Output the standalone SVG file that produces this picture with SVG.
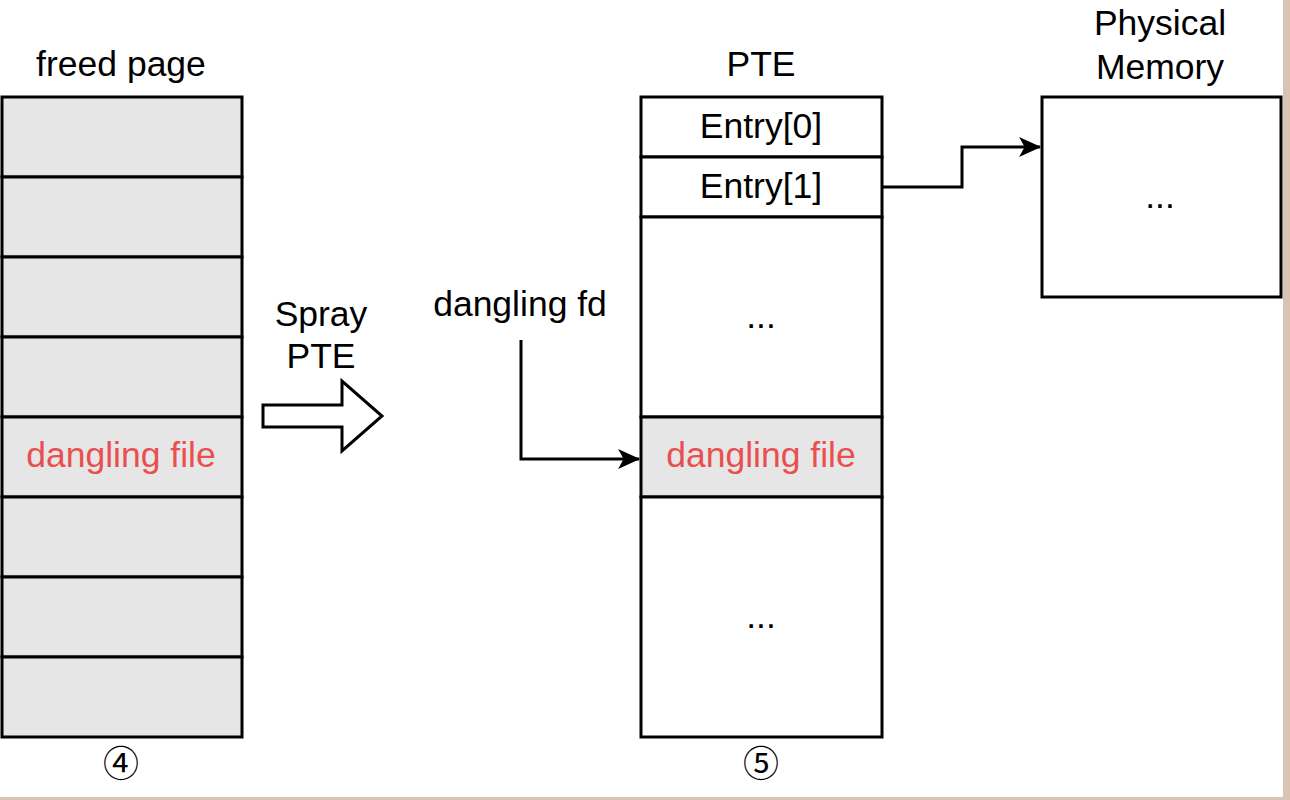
<svg xmlns="http://www.w3.org/2000/svg" width="1290" height="800" viewBox="0 0 1290 800">
<style>
.cell{fill:#e6e6e6;stroke:#000;stroke-width:3}
.wcell{fill:#fff;stroke:#000;stroke-width:3}
.t{font-family:"Liberation Sans",Arial,sans-serif;font-size:35.5px;fill:#000;text-anchor:middle}
.red{fill:#ea4f4f}
.num{font-family:"Noto Sans CJK SC","DejaVu Sans",sans-serif;font-size:36px;fill:#000;text-anchor:middle}
.conn{fill:none;stroke:#000;stroke-width:3}
</style>
<defs>
<marker id="arr" viewBox="0 0 20 20" refX="19" refY="10" markerWidth="22" markerHeight="22" markerUnits="userSpaceOnUse" orient="auto" overflow="visible">
<path d="M0,1 L20,10 L0,19 L5,10 Z" fill="#000"/>
</marker>
</defs>
<rect width="1290" height="800" fill="#fff"/>
<rect x="1283" y="0" width="7" height="800" fill="#d9c4b4"/>
<rect x="0" y="797" width="1290" height="3" fill="#d9c4b4"/>

<g id="freed-page">
<text class="t" x="121" y="76">freed page</text>
<rect class="cell" x="2" y="97" width="240" height="80"/>
<rect class="cell" x="2" y="177" width="240" height="80"/>
<rect class="cell" x="2" y="257" width="240" height="80"/>
<rect class="cell" x="2" y="337" width="240" height="80"/>
<rect class="cell" x="2" y="417" width="240" height="80"/>
<rect class="cell" x="2" y="497" width="240" height="80"/>
<rect class="cell" x="2" y="577" width="240" height="80"/>
<rect class="cell" x="2" y="657" width="240" height="80"/>
<text class="t red" x="121" y="467">dangling file</text>
<text class="num" x="121" y="777">④</text>
</g>

<g id="spray">
<text class="t" x="321" y="326">Spray</text>
<text class="t" x="321" y="368">PTE</text>
<path d="M263,405 L342,405 L342,381 L382,416 L342,451 L342,427 L263,427 Z" fill="#fff" stroke="#000" stroke-width="3" stroke-linejoin="miter"/>
</g>

<g id="dangling-fd">
<text class="t" x="520" y="316">dangling fd</text>
</g>

<g id="pte">
<text class="t" x="761" y="76">PTE</text>
<rect class="wcell" x="641" y="97" width="241" height="60"/>
<rect class="wcell" x="641" y="157" width="241" height="60"/>
<rect class="wcell" x="641" y="217" width="241" height="200"/>
<rect class="cell" x="641" y="417" width="241" height="80"/>
<rect class="wcell" x="641" y="497" width="241" height="240"/>
<text class="t" x="761" y="138">Entry[0]</text>
<text class="t" x="761" y="198">Entry[1]</text>
<text class="t" x="761" y="328">...</text>
<text class="t red" x="761" y="467">dangling file</text>
<text class="t" x="761" y="628">...</text>
<text class="num" x="761" y="777">⑤</text>
</g>

<g id="physical-memory">
<text class="t" x="1160" y="35">Physical</text>
<text class="t" x="1160" y="79">Memory</text>
<rect class="wcell" x="1042" y="97" width="239" height="200"/>
<text class="t" x="1160" y="208">...</text>
</g>

<g id="connectors">
<path class="conn" d="M882,187 L962,187 L962,147 L1040,147" marker-end="url(#arr)"/>
<path class="conn" d="M521,340 L521,459 L639,459" marker-end="url(#arr)"/>
</g>
</svg>
